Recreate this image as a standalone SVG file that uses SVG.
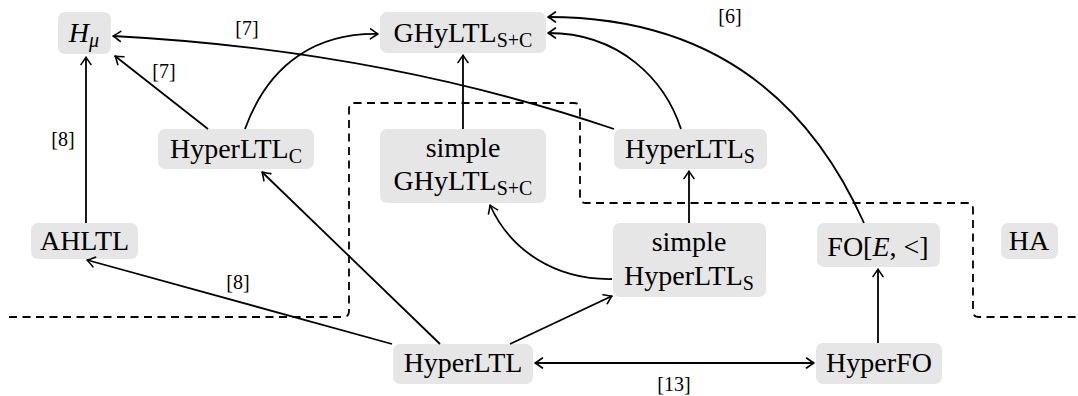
<svg xmlns="http://www.w3.org/2000/svg" width="1078" height="396" viewBox="0 0 1078 396">
<style>
.n rect{fill:#e6e6e6;stroke:none}
text{font-family:'Liberation Serif','Times New Roman','DejaVu Serif',Times,serif;fill:#000;text-anchor:middle}
.t{font-size:28px}
.s{font-size:20px}
.i{font-style:italic}
.l{font-size:20px}
.e{fill:none;stroke:#000;stroke-width:1.8}
.d{fill:none;stroke:#000;stroke-width:1.8;stroke-dasharray:8 5.5}
</style>
<defs>
<marker id="a" viewBox="-10 -7 12 14" refX="0" refY="0" markerWidth="12" markerHeight="14" markerUnits="userSpaceOnUse" orient="auto-start-reverse">
<path d="M -7.5 -5 Q -2 -1 0 0 Q -2 1 -7.5 5" fill="none" stroke="#000" stroke-width="1.6" stroke-linecap="round" stroke-linejoin="round"/>
</marker>
</defs>
<path class="d" d="M 9 317 H 343 Q 349 317 349 311 V 109 Q 349 103 355 103 H 574 Q 580 103 580 109 V 197 Q 580 203 586 203 H 967 Q 973 203 973 209 V 311 Q 973 317 979 317 H 1078"/>
<g id="nodes" font-family="Liberation Serif, serif">
<g id="Hmu" class="n"><rect x="58" y="12" width="53" height="42" rx="7"/><text class="t" x="84" y="42"><tspan class="i">H</tspan><tspan class="s i" dy="5">μ</tspan></text></g>
<g id="GHyLTL" class="n"><rect x="380" y="12" width="166" height="41" rx="7"/><text class="t" x="463" y="42">GHyLTL<tspan class="s" dy="5">S+C</tspan></text></g>
<g id="HyperLTLC" class="n"><rect x="158" y="129" width="156" height="40" rx="7"/><text class="t" x="236" y="158">HyperLTL<tspan class="s" dy="5">C</tspan></text></g>
<g id="simpleGHyLTL" class="n"><rect x="380" y="129" width="166" height="74" rx="7"/><text class="t" x="463" y="157">simple</text><text class="t" x="463" y="190">GHyLTL<tspan class="s" dy="5">S+C</tspan></text></g>
<g id="HyperLTLS" class="n"><rect x="614" y="129" width="153" height="40" rx="7"/><text class="t" x="690" y="158">HyperLTL<tspan class="s" dy="5">S</tspan></text></g>
<g id="AHLTL" class="n"><rect x="31" y="223" width="107" height="36" rx="7"/><text class="t" x="84.5" y="250">AHLTL</text></g>
<g id="simpleHyperLTLS" class="n"><rect x="613" y="223" width="153" height="74" rx="7"/><text class="t" x="689" y="251">simple</text><text class="t" x="689" y="285">HyperLTL<tspan class="s" dy="5">S</tspan></text></g>
<g id="FO" class="n"><rect x="817" y="223" width="123" height="44" rx="7"/><text class="t" x="878" y="256">FO[<tspan class="i">E</tspan>, &lt;]</text></g>
<g id="HA" class="n"><rect x="1001" y="223" width="57" height="36" rx="7"/><text class="t" x="1029" y="250">HA</text></g>
<g id="HyperLTL" class="n"><rect x="393" y="344" width="140" height="40" rx="7"/><text class="t" x="463" y="372">HyperLTL</text></g>
<g id="HyperFO" class="n"><rect x="816" y="343" width="126" height="41" rx="7"/><text class="t" x="879" y="372">HyperFO</text></g>
</g>
<g id="connectors">
<path class="e" marker-end="url(#a)" d="M 86 223 V 57"/>
<path class="e" marker-end="url(#a)" d="M 208 129 L 115 56"/>
<path class="e" marker-end="url(#a)" d="M 614 129 Q 380 50 113 36"/>
<path class="e" marker-end="url(#a)" d="M 245 129 C 270 60 320 33 378 34"/>
<path class="e" marker-end="url(#a)" d="M 463 129 V 55"/>
<path class="e" marker-end="url(#a)" d="M 681 129 C 665 80 620 33 548 33"/>
<path class="e" marker-end="url(#a)" d="M 864 223 C 800 80 690 17 548 17"/>
<path class="e" marker-end="url(#a)" d="M 689 223 V 171"/>
<path class="e" marker-end="url(#a)" d="M 612 279 C 555 280 510 250 490 205"/>
<path class="e" marker-end="url(#a)" d="M 440 344 L 262 172"/>
<path class="e" marker-end="url(#a)" d="M 510 344 L 612 296"/>
<path class="e" marker-end="url(#a)" d="M 392 344 L 87 260"/>
<path class="e" marker-start="url(#a)" marker-end="url(#a)" d="M 535 363 H 814"/>
<path class="e" marker-end="url(#a)" d="M 878 343 V 269"/>
<text class="l" x="63" y="146">[8]</text>
<text class="l" x="164" y="78">[7]</text>
<text class="l" x="247" y="35">[7]</text>
<text class="l" x="730" y="23">[6]</text>
<text class="l" x="238" y="289">[8]</text>
<text class="l" x="674" y="391">[13]</text>
</g>
</svg>
